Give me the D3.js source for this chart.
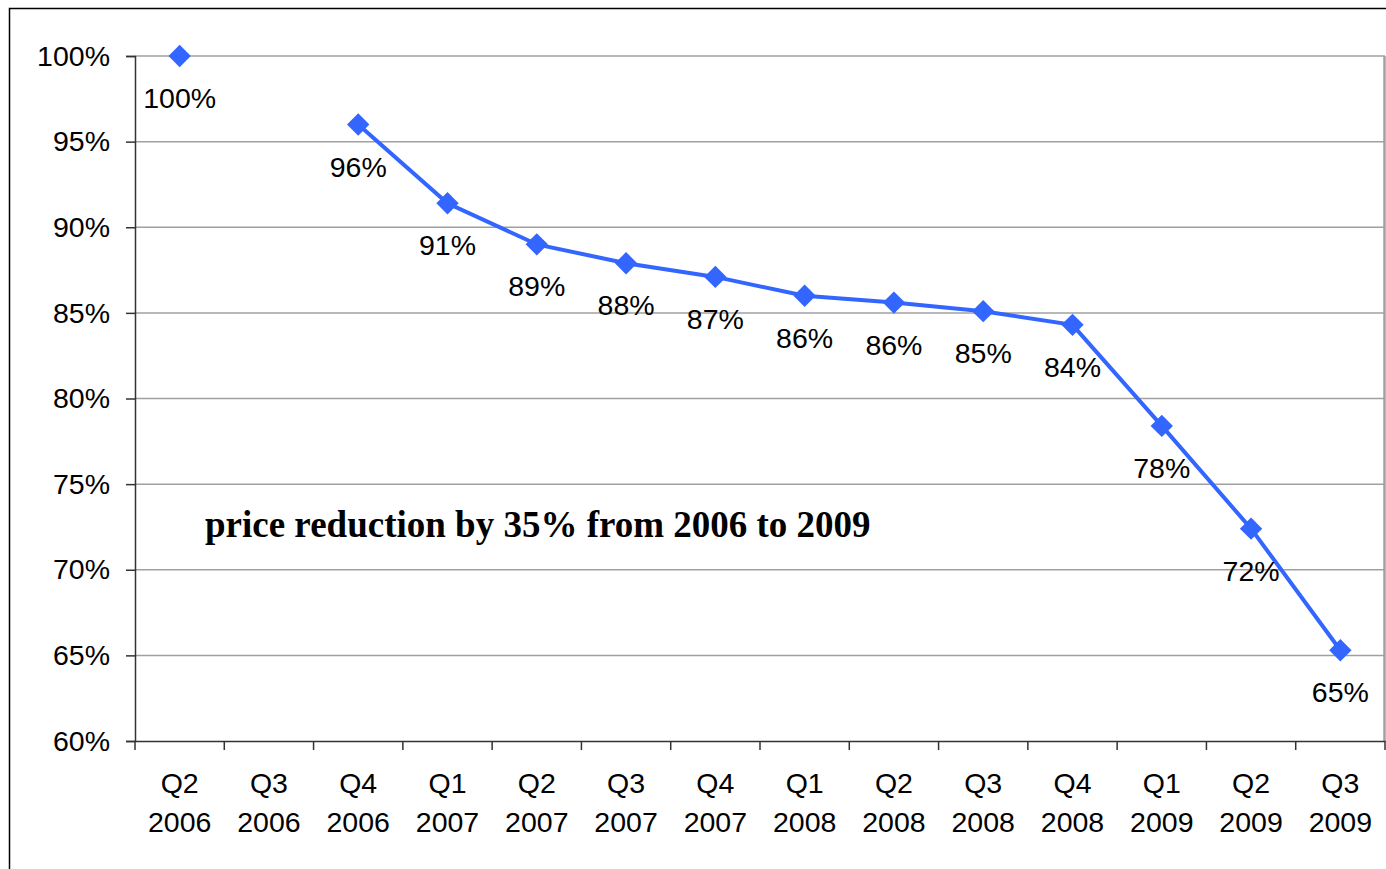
<!DOCTYPE html>
<html><head><meta charset="utf-8">
<script src="https://cdn.jsdelivr.net/npm/d3@7"></script>
<style>body{margin:0;background:#fff}svg{display:block}</style>
</head><body>
<svg id="c" width="1386" height="869"></svg>
<script>
const categories = ["Q2 2006","Q3 2006","Q4 2006","Q1 2007","Q2 2007","Q3 2007","Q4 2007","Q1 2008","Q2 2008","Q3 2008","Q4 2008","Q1 2009","Q2 2009","Q3 2009"];
const values = [1.00, null, 0.96, 0.914, 0.890, 0.879, 0.871, 0.860, 0.856, 0.851, 0.843, 0.784, 0.724, 0.653];
const yTicks = [0.60,0.65,0.70,0.75,0.80,0.85,0.90,0.95,1.00];
const annotation = "price reduction by 35% from 2006 to 2009";

const svg = d3.select("#c");
const L=135, R=1385, T=56, B=741;
const fs = 28.5;
const fmt = d3.format(".0%");

svg.append("rect").attr("x",9.5).attr("y",8.5).attr("width",1390).attr("height",880)
  .attr("fill","none").attr("stroke","#000").attr("stroke-width",1.5);

const x = d3.scaleBand().domain(categories).range([L,R]).padding(0);
const y = d3.scaleLinear().domain([0.6,1.0]).range([B,T]);

svg.append("g").selectAll("line").data(yTicks.slice(1)).join("line")
  .attr("x1",L).attr("x2",R).attr("y1",d=>y(d)).attr("y2",d=>y(d))
  .attr("stroke","#a0a0a0").attr("stroke-width",1.5);
svg.append("line").attr("x1",R-0.5).attr("x2",R-0.5).attr("y1",T).attr("y2",B)
  .attr("stroke","#a0a0a0").attr("stroke-width",2.5);

const ya = svg.append("g").attr("transform",`translate(${L},0)`)
  .call(d3.axisLeft(y).tickValues(yTicks).tickFormat(fmt).tickSize(9).tickPadding(16));
ya.select(".domain").attr("stroke","#333").attr("stroke-width",1.5);
ya.selectAll(".tick line").attr("stroke","#333").attr("stroke-width",1.5);
ya.selectAll("text").attr("font-family","Liberation Sans, Arial, sans-serif").attr("font-size",fs).attr("fill","#000");

const xa = svg.append("g").attr("transform",`translate(0,${B})`)
  .call(d3.axisBottom(x).tickSize(0).tickFormat(""));
xa.select(".domain").attr("stroke","#333").attr("stroke-width",1.5);
svg.append("g").selectAll("line").data(categories.concat(["end"])).join("line")
  .attr("x1",(d,i)=>L+i*x.step()).attr("x2",(d,i)=>L+i*x.step())
  .attr("y1",B).attr("y2",B+9).attr("stroke","#333").attr("stroke-width",1.5);
const xl = svg.append("g").selectAll("text").data(categories).join("text")
  .attr("x",d=>x(d)+x.bandwidth()/2).attr("text-anchor","middle")
  .attr("font-family","Liberation Sans, Arial, sans-serif").attr("font-size",fs).attr("fill","#000");
xl.append("tspan").attr("x",d=>x(d)+x.bandwidth()/2).attr("y",B+52).text(d=>d.split(" ")[0]);
xl.append("tspan").attr("x",d=>x(d)+x.bandwidth()/2).attr("y",B+91).text(d=>d.split(" ")[1]);

const pts = categories.map((c,i)=>({c,v:values[i]}));
const line = d3.line().defined(d=>d.v!=null).x(d=>x(d.c)+x.bandwidth()/2).y(d=>y(d.v));
svg.append("path").datum(pts).attr("d",line).attr("fill","none")
  .attr("stroke","#3366ff").attr("stroke-width",4);

const sym = d3.symbol().type(d3.symbolSquare).size(250);
svg.append("g").selectAll("path").data(pts.filter(d=>d.v!=null)).join("path")
  .attr("d",sym).attr("fill","#3366ff")
  .attr("transform",d=>`translate(${x(d.c)+x.bandwidth()/2},${y(d.v)}) rotate(45)`);

svg.append("g").selectAll("text").data(pts.filter(d=>d.v!=null)).join("text")
  .attr("x",d=>x(d.c)+x.bandwidth()/2).attr("y",d=>y(d.v)+52)
  .attr("text-anchor","middle").attr("font-family","Liberation Sans, Arial, sans-serif")
  .attr("font-size",fs).attr("fill","#000").text(d=>fmt(d.v));

svg.append("text").attr("x",205).attr("y",537)
  .attr("font-family","Liberation Serif, Times New Roman, serif").attr("font-weight","bold")
  .attr("font-size",37).attr("fill","#000").text(annotation);
</script>
</body></html>
